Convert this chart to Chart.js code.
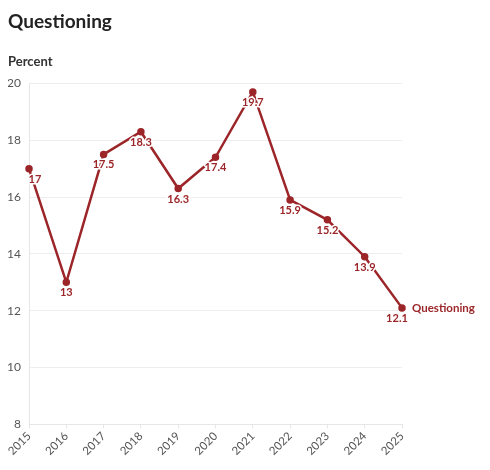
<!DOCTYPE html>
<html>
<head>
<meta charset="utf-8">
<script src="https://cdn.jsdelivr.net/npm/chart.js@4/dist/chart.umd.min.js"></script>
<style>
  html, body { margin: 0; padding: 0; background: #fff; }
  #wrap { width: 490px; height: 470px; }
</style>
</head>
<body>
<div id="wrap"><canvas id="chart"></canvas></div>
<script>
// Data
const years = ['2015', '2016', '2017', '2018', '2019', '2020', '2021', '2022', '2023', '2024', '2025'];
const questioning = [17, 13, 17.5, 18.3, 16.3, 17.4, 19.7, 15.9, 15.2, 13.9, 12.1];
const yTicks = [8, 10, 12, 14, 16, 18, 20];
const seriesName = 'Questioning';

const RED = '#9b2528';
const FONT = "Lato, 'Noto Sans', sans-serif";

// value labels under each point, with a white halo
const pointLabels = {
    id: 'pointLabels',
    afterDatasetsDraw(chart) {
        const ctx = chart.ctx;
        const meta = chart.getDatasetMeta(0);
        ctx.save();
        ctx.font = `bold 11px ${FONT}`;
        ctx.textBaseline = 'top';
        ctx.lineJoin = 'round';
        meta.data.forEach((pt, i) => {
            let x = pt.x;
            if (i === 0) x += 6;
            if (i === meta.data.length - 1) x -= 5;
            const y = pt.y + 5;
            const txt = String(questioning[i]);
            ctx.textAlign = 'center';
            ctx.strokeStyle = '#fff';
            ctx.lineWidth = 3;
            ctx.strokeText(txt, x, y);
            ctx.fillStyle = RED;
            ctx.fillText(txt, x, y);
        });
        // series name at the end of the line
        const last = meta.data[meta.data.length - 1];
        ctx.font = `bold 11.5px ${FONT}`;
        ctx.textAlign = 'left';
        ctx.textBaseline = 'middle';
        ctx.fillStyle = RED;
        ctx.fillText(seriesName, last.x + 10, last.y);
        ctx.restore();
    }
};

new Chart(document.getElementById('chart'), {
    type: 'line',
    data: {
        labels: years,
        datasets: [{
            label: seriesName,
            data: questioning,
            borderColor: RED,
            backgroundColor: RED,
            borderWidth: 2.5,
            pointRadius: 2.5,
            pointHoverRadius: 2.5,
            tension: 0
        }]
    },
    options: {
        responsive: true,
        maintainAspectRatio: false,
        animation: false,
        layout: { padding: { left: 8, right: 88, top: 9, bottom: 11 } },
        plugins: {
            legend: { display: false },
            tooltip: { enabled: false },
            title: {
                display: true,
                text: 'Questioning',
                align: 'start',
                color: '#222',
                font: { family: FONT, size: 19, weight: 'bold' },
                padding: { top: 1, bottom: 21 }
            },
            subtitle: {
                display: true,
                text: 'Percent',
                align: 'start',
                color: '#333',
                font: { family: FONT, size: 13, weight: 'bold' },
                padding: { top: 0, bottom: 14 }
            }
        },
        scales: {
            x: {
                offset: false,
                afterFit: axis => { axis.paddingLeft = 0; axis.paddingRight = 0; },
                grid: { drawOnChartArea: false, drawTicks: true, tickLength: 4, color: '#e6e6e6' },
                border: { color: '#e6e6e6' },
                ticks: {
                    color: '#555',
                    font: { family: FONT, size: 11.5 },
                    maxRotation: 45,
                    minRotation: 45,
                    padding: 1
                }
            },
            y: {
                min: 8,
                max: 20,
                afterBuildTicks: axis => { axis.ticks = yTicks.map(v => ({ value: v })); },
                afterFit: axis => { axis.width = 21; },
                grid: { color: '#eeeeee', drawTicks: false },
                border: { display: true, color: '#e6e6e6' },
                ticks: {
                    color: '#555',
                    font: { family: FONT, size: 12 },
                    padding: 8
                }
            }
        }
    },
    plugins: [pointLabels]
});
</script>
</body>
</html>
